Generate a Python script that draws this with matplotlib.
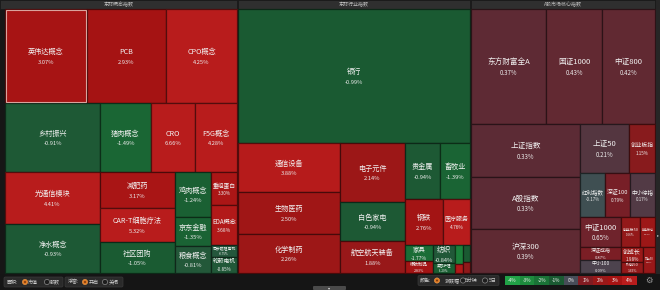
import matplotlib
matplotlib.use('Agg')
import matplotlib.pyplot as plt
from matplotlib.patches import Rectangle, FancyBboxPatch, Circle
import numpy as np
from matplotlib.colors import to_rgb

plt.rcParams['font.family'] = ['Noto Sans CJK SC', 'DejaVu Sans']

# ---------------- data ----------------
panel_titles = ['东财概念指数', '东财行业指数', 'A股市场核心指数']

concept_names = ['英伟达概念', 'PCB', 'CPO概念', '乡村振兴', '光通信模块', '净水概念',
                 '猪肉概念', 'CRO', 'F5G概念', '减肥药', 'CAR-T细胞疗法', '社区团购',
                 '鸡肉概念', '京东金融', '粮食概念', '重组蛋白', 'EDA概念', '同步磁阻电机', '轮毂电机']
concept_pct = [3.07, 2.93, 4.25, -0.91, 4.41, -0.93, -1.49, 6.66, 4.28, 3.17, 5.32, -1.05,
               -1.24, -1.35, -0.81, 3.30, 3.68, -0.75, -0.85]
concept_size = [7708, 7426, 6674, 6555, 4940, 4655, 3519, 3036, 2898, 2700, 2550, 2325,
                1620, 1044, 972, 858, 1040, 312, 416]

ind_names = ['银行', '通信设备', '生物医药', '化学制药', '电子元件', '白色家电', '航空航天装备',
             '贵金属', '畜牧业', '钢铁', '医疗服务', '家具', '橡胶制品', '纺织', '美容护理',
             '游戏', '燃气', '农药兽药', '小金属']
ind_pct = [-0.99, 3.88, 2.50, 2.26, 2.14, -0.94, 1.88, -0.94, -1.39, 2.76, 4.76, -1.77, 2.83,
           -0.84, -1.20, -2.60, 3.60, -1.00, 1.50]
ind_size = [31088, 4998, 4284, 3978, 3835, 2535, 2080, 1960, 1680, 1748, 1242, 448, 336,
            396, 220, 152, 72, 119, 77]

idx_names = ['东方财富全A', '国证1000', '中证800', '上证指数', 'A股指数', '沪深300', '上证50',
             '创业板指', '红利指数', '深证100', '中小综指', '中证1000', '深证成指', '中小100',
             '创业板50', '创业板综', '创成长', '科创50', '双创50']
idx_pct = [0.37, 0.43, 0.42, 0.33, 0.33, 0.39, 0.21, 1.15, -0.17, 0.79, 0.17, 0.65, 0.87,
           0.09, 1.66, 2.21, 1.98, 1.65, 1.90]
idx_size = [8625, 6440, 6095, 5777, 5668, 4796, 2401, 1274, 1100, 1100, 1100, 1230, 533,
            533, 570, 450, 330, 242, 312]

legend_labels = ['-4%', '-3%', '-2%', '-1%', '0%', '1%', '2%', '3%', '4%']
legend_vals = [-4, -3, -2, -1, 0, 1, 2, 3, 4]

# nesting of the treemap (h = side by side, v = stacked)
concept_tree = ('v', [('h', [0, 1, 2]),
                      ('h', [('v', [3, 4, 5]),
                             ('v', [('h', [6, 7, 8]),
                                    ('h', [('v', [9, 10, 11]), ('v', [12, 13, 14]),
                                           ('v', [15, 16, 17, 18])])])])])
ind_tree = ('v', [0,
                  ('h', [('v', [1, 2, 3]), ('v', [4, 5, 6]),
                         ('v', [('h', [7, 8]), ('h', [9, 10]),
                                ('h', [('v', [11, 12]), ('v', [13, 14]), ('v', [15, 16]),
                                       ('v', [17, 18])])])])])
idx_tree = ('v', [('h', [0, 1, 2]),
                  ('h', [('v', [3, 4, 5]),
                         ('v', [('h', [6, 7]), ('h', [8, 9, 10]),
                                ('h', [('v', [11, 12, 13]),
                                       ('v', [('h', [14, 15]),
                                              ('h', [('v', [16, 17]), 18])])])])])])

# ---------------- colours ----------------
anchor_v = [-4, -3, -2, -1, 0, 0.3, 0.8, 1.2, 2, 3, 4]
anchor_c = ['#21a247', '#1d8a3d', '#1a7337', '#1a5a32', '#474d58', '#5a2c36', '#781f27',
            '#8a1a1c', '#9a1818', '#a61313', '#b81c1c']
anchor_rgb = np.array([to_rgb(c) for c in anchor_c])


def pct_color(p):
    p = max(-4, min(4, p))
    return tuple(np.interp(p, anchor_v, anchor_rgb[:, i]) for i in range(3))


def subtotal(node, sizes):
    if isinstance(node, int):
        return sizes[node]
    return sum(subtotal(k, sizes) for k in node[1])


def layout(node, x, y, w, h, sizes, out):
    if isinstance(node, int):
        out[node] = (x, y, w, h)
        return
    d, kids = node
    tots = [subtotal(k, sizes) for k in kids]
    s = sum(tots)
    pos = 0.0
    for k, t in zip(kids, tots):
        if d == 'h':
            layout(k, x + w * pos / s, y, w * t / s, h, sizes, out)
        else:
            layout(k, x, y + h * pos / s, w, h * t / s, sizes, out)
        pos += t


PX = 72.0 / 100.0  # points per pixel


def text_w(s):
    return sum(1.0 if ord(c) > 0x2000 else 0.58 for c in s)


def draw_label(ax, x, y, w, h, name, pct, base=7.2):
    em = base
    tw = text_w(name)
    em = min(em, (w - 3) / tw)
    show_pct = True
    if h < 2.2 * em + 3:
        em2 = (h - 2) / 2.2
        if em2 >= 3.2:
            em = min(em, em2)
        else:
            show_pct = False
            em = min(em, h - 3)
    if em < 2.6:
        return
    cx, cy = x + w / 2, y + h / 2
    if show_pct:
        ax.text(cx, cy - 0.55 * em, name, ha='center', va='center', color='#f2f2f2',
                fontsize=em * PX)
        ax.text(cx, cy + 0.85 * em, f'{pct:.2f}%', ha='center', va='center', color='#ececec',
                fontsize=em * 0.8 * PX)
    else:
        ax.text(cx, cy, name, ha='center', va='center', color='#f2f2f2', fontsize=em * PX)


# ---------------- figure ----------------
fig = plt.figure(figsize=(6.6, 2.9), dpi=100)
fig.patch.set_facecolor('#161616')
ax = fig.add_axes([0, 0, 1, 1])
ax.set_xlim(0, 660)
ax.set_ylim(290, 0)
ax.axis('off')

panels = [
    (concept_names, concept_pct, concept_size, concept_tree, (5, 237)),
    (ind_names, ind_pct, ind_size, ind_tree, (238, 470)),
    (idx_names, idx_pct, idx_size, idx_tree, (471, 655)),
]
y0, y1 = 9, 273
header_spans = [(0, 237), (237.5, 470), (470.5, 655)]

for (hx0, hx1), title in zip(header_spans, panel_titles):
    ax.add_patch(Rectangle((hx0, 0), hx1 - hx0, 8.5, facecolor='#2f2f2f', edgecolor='#1a1a1a',
                           lw=0.6))
    ax.text((hx0 + hx1) / 2, 4.3, title, ha='center', va='center', color='#bdbdbd',
            fontsize=3.6)

for names, pcts, sizes, tree, (px0, px1) in panels:
    rects = {}
    layout(tree, px0, y0, px1 - px0, y1 - y0, sizes, rects)
    for i, (x, y, w, h) in rects.items():
        fc = pct_color(pcts[i])
        ec = tuple(c * 0.45 for c in fc)
        ax.add_patch(Rectangle((x, y), w, h, facecolor=fc, edgecolor=ec, lw=0.9))
        base = 7.6 if px0 > 460 else 7.2
        draw_label(ax, x, y, w, h, names[i], pcts[i], base=base)
    if px0 == 5:
        x, y, w, h = rects[0]
        ax.add_patch(Rectangle((x + 0.6, y + 0.6), w - 1.2, h - 1.2, facecolor='none',
                               edgecolor='#d9a39c', lw=0.8))

# right scroll strip
ax.add_patch(Rectangle((655.5, 0), 4.5, 274, facecolor='#262626', edgecolor='none'))
ax.text(657.8, 235, '▸', ha='center', va='center', color='#bbbbbb', fontsize=3,
        family=['DejaVu Sans'])

# ---------------- bottom bar ----------------
ax.add_patch(Rectangle((0, 274), 660, 16, facecolor='#151515', edgecolor='none'))


def box(x0, x1, yc):
    ax.add_patch(FancyBboxPatch((x0, yc - 5), x1 - x0, 10,
                                boxstyle='round,pad=0,rounding_size=1.5',
                                facecolor='#2a2a2a', edgecolor='#3a3a3a', lw=0.5))


def radio(x, yc, on):
    if on:
        ax.add_patch(Circle((x, yc), 2.6, facecolor='#e07a22', edgecolor='#f0a050', lw=0.4))
        ax.add_patch(Circle((x, yc), 1.0, facecolor='#7a3a10', edgecolor='none'))
    else:
        ax.add_patch(Circle((x, yc), 2.6, facecolor='#1e1e1e', edgecolor='#8a8a8a', lw=0.5))


def label(x, yc, s, size=3.6):
    ax.text(x, yc, s, ha='center', va='center', color='#d0d0d0', fontsize=size)


yc = 282
box(4, 63, yc)
label(12, yc, '面积:')
radio(25, yc, True)
label(33, yc, '市值')
radio(47, yc, False)
label(55, yc, '股数')
box(65, 123, yc)
label(74, yc, '浮窗:')
radio(85, yc, True)
label(94, yc, '开启')
radio(105, yc, False)
label(114, yc, '关闭')

yc2 = 280.5
box(418, 499, yc2)
label(426, yc2, '颜色:')
radio(437, yc2, True)
label(452, yc2, '涨跌幅')
radio(463, yc2, False)
label(471, yc2, '5分钟')
radio(485, yc2, False)
label(493, yc2, '5日')

lx0, lx1 = 505, 637
bw = (lx1 - lx0) / len(legend_vals)
for k, (v, t) in enumerate(zip(legend_vals, legend_labels)):
    ax.add_patch(Rectangle((lx0 + k * bw, yc2 - 4.5), bw, 9, facecolor=pct_color(v),
                           edgecolor='none'))
    ax.text(lx0 + (k + 0.5) * bw, yc2, t, ha='center', va='center', color='#f0f0f0',
            fontsize=3.4)
ax.text(649, yc2, '⚙', ha='center', va='center', color='#9a9a9a', fontsize=6,
        family=['DejaVu Sans'])

# scroll thumb
ax.add_patch(FancyBboxPatch((313, 286), 33, 4, boxstyle='round,pad=0,rounding_size=1',
                            facecolor='#4a4a4a', edgecolor='none'))
ax.text(329.5, 288, '▾', ha='center', va='center', color='#dddddd', fontsize=3,
        family=['DejaVu Sans'])

fig.savefig('out.png', dpi=100, facecolor=fig.get_facecolor())
